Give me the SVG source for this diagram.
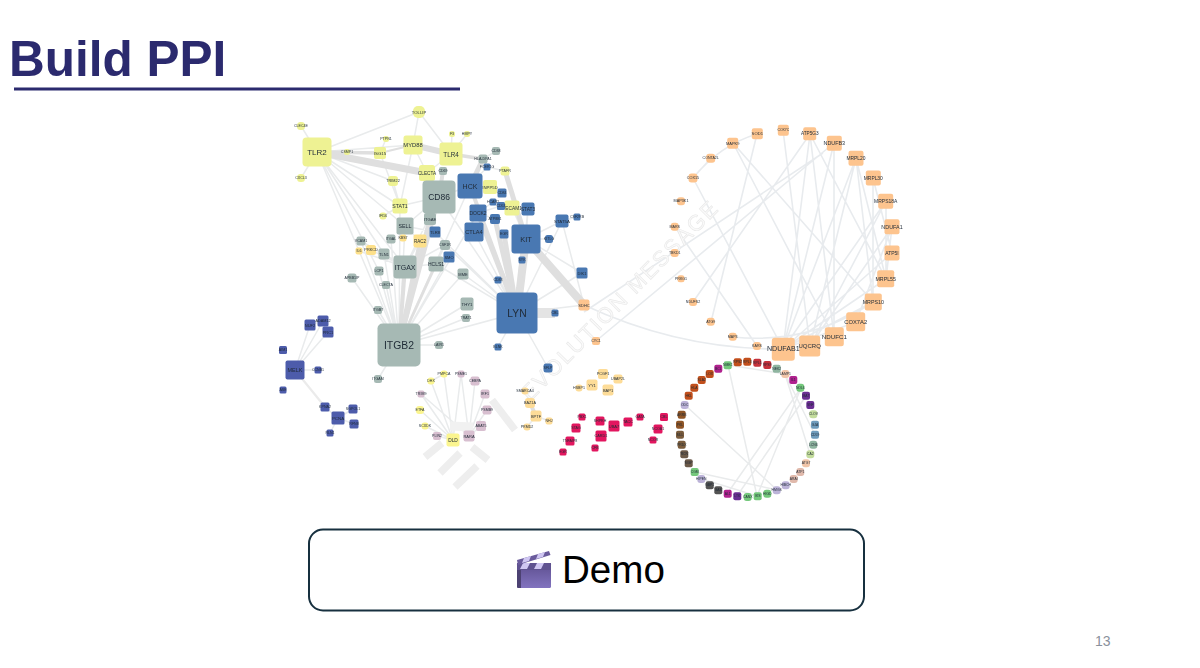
<svg xmlns="http://www.w3.org/2000/svg" width="1200" height="668" viewBox="0 0 1200 668">
<defs>
<linearGradient id="clap" x1="0" y1="0" x2="0" y2="1"><stop offset="0" stop-color="#5d4f8f"/><stop offset="1" stop-color="#8273bf"/></linearGradient>
<filter id="soft" x="-2%" y="-2%" width="104%" height="104%"><feGaussianBlur stdDeviation="0.4"/></filter>
</defs>
<style>
text{font-family:"Liberation Sans",Arial,sans-serif}
.net text{text-anchor:middle;dominant-baseline:central;fill:#1f2a36}
.e{fill:none;stroke:#e9ebec;stroke-width:1.5}
.e2{fill:none;stroke:#e8ebee;stroke-width:1.6}
.t{fill:none;stroke:#dfdfdf;stroke-linecap:butt}
.mark{fill:none;stroke:#eeeeee;stroke-width:7.5}
.y rect{fill:#eef293}.g rect{fill:#a6b9b4}.b rect{fill:#4a78b2}.o rect{fill:#fdc48e}.n rect{fill:#4d5cab}
.m rect{fill:#d8bfd0}.l rect{fill:#fbf58f}.p rect{fill:#fddc98}.c rect{fill:#e2175f}.r rect{fill:#fde08a}
.i2 rect{fill:#c2501b}.i3 rect{fill:#c5303a}.i4 rect{fill:#8fb5a0}.i5 rect{fill:#f1c5a8}.i6 rect{fill:#b0208e}.i7 rect{fill:#74c87c}
.i8 rect{fill:#6a2f92}.i9 rect{fill:#c3dc9c}.i10 rect{fill:#6f9cbc}.i11 rect{fill:#e0b9ab}.i12 rect{fill:#bcb3d8}.i13 rect{fill:#525252}.i14 rect{fill:#7a5c3c}.i15 rect{fill:#6c5a4a}.i16 rect{fill:#8f5526}
</style>
<rect width="1200" height="668" fill="#ffffff"/>
<text id="title" x="9" y="76" font-size="49.5" font-weight="700" fill="#2b2a6e">Build PPI</text>
<line id="title-rule" x1="14" y1="89" x2="460" y2="89" stroke="#2b2a6e" stroke-width="3"/>

<g class="net" filter="url(#soft)">
<g id="connectors">
<path class="e" d="M317 152L419 112M317 152L301 126M317 152L301 178M317 152L393 181M317 152L400 206M317 152L405 226M317 152L405 267M317 152L399 345M317 152L384 254M317 152L379 271M317 152L413 145M419 112L451 154M419 112L413 145M413 145L439 197M413 145L427 173M451 154L452 134M451 154L467 134M451 154L427 173M451 154L483 159M380 153L386 139M380 153L400 206M413 145L400 206M393 181L400 206M400 206L383 216M400 206L439 197M400 206L399 345M399 345L405 226M399 345L361 241M399 345L384 254M399 345L391 239M399 345L379 271M399 345L378 310M399 345L463 274M399 345L467 304M399 345L466 318M399 345L517 313M399 345L439 345M399 345L378 379M399 345L386 285M399 345L352 278M399 345L445 245M399 345L449 257M439 197L405 226M439 197L405 267M439 197L470 186M405 226L420 241M405 226L435 232M405 267L436 264M405 267L445 245M405 267L420 241M405 267L361 241M405 267L359 251M405 267L371 250M405 267L384 254M436 264L517 313M463 274L517 313M445 245L517 313M474 232L517 313M435 232L517 313M470 186L399 345M478 213L399 345M439 197L517 313M526 239L562 221M526 239L549 239M526 239L528 209M526 239L512 208M562 221L577 217M517 313L528 209M517 313L562 221M517 313L582 273M517 313L548 368M517 313L498 347M517 313L498 280M517 313L504 234M517 313L584 305M526 239L582 273M562 221L584 305M483 159L496 151M483 159L470 186M487 167L470 186M493 202L478 213M501 206L478 213M495 219L478 213M490 187L470 186M512 208L528 209M505 171L487 167"/>
<path class="e" d="M295 370L310 325M295 370L323 321M295 370L328 332M295 370L318 370M310 325L323 321M338 418L325 407M338 418L353 409M338 418L354 424M338 418L330 433"/>
<path class="t" stroke-width="2.2" d="M295 370L325 407" style="stroke:#ebebeb"/>
<path class="e" d="M453 440L444 374M453 440L431 381M453 440L420 410M453 440L421 394M453 440L425 426M453 440L461 374M469 436L475 381M469 436L485 394M469 436L461 374M469 436L487 410M469 436L481 426M437 436L453 440M431 381L444 374M421 394L469 436"/>
<path class="e" d="M536 416L525 391M536 416L527 427M536 416L549 421M530 403L525 391"/>
<path class="t" stroke-width="4" d="M530 403L536 416"/>
<path class="t" stroke-width="7" d="M317 152L427 173"/>
<path class="t" stroke-width="6" d="M413 145L451 154"/>
<path class="t" stroke-width="3.5" d="M317 152L380 153"/>
<path class="t" stroke-width="2.2" d="M380 153L413 145"/>
<path class="t" stroke-width="3.5" d="M451 154L483 159"/>
<path class="t" stroke-width="4" d="M427 173L439 197"/>
<path class="t" stroke-width="4" d="M443 171L439 197"/>
<path class="t" stroke-width="5" d="M483 159L470 186"/>
<path class="t" stroke-width="5" d="M505 171L526 239"/>
<path class="t" stroke-width="8" d="M526 239L584 305"/>
<path class="t" stroke-width="8" d="M526 239L517 313"/>
<path class="t" stroke-width="5" d="M522 260L517 313"/>
<path class="t" stroke-width="5" d="M478 213L517 313"/>
<path class="t" stroke-width="4" d="M470 186L517 313"/>
<path class="t" stroke-width="5" d="M495 219L517 313"/>
<path class="t" stroke-width="5" d="M504 234L517 313"/>
<path class="t" stroke-width="10" d="M517 313L555 313" style="stroke:#e4e4e4"/>
<path class="t" stroke-width="4" d="M405 267L399 345"/>
<path class="t" stroke-width="5" d="M430 219L399 345"/>
<path class="t" stroke-width="4" d="M439 197L399 345"/>
<path class="t" stroke-width="4" d="M420 241L399 345"/>
<path class="t" stroke-width="3" d="M436 264L399 345"/>
<path class="e2" d="M733 143L873 302M757 134L711 322M693 178L783 349M693 178Q720 145 757 134M834 143L783 349M834 143L834 337M834 143L596 341M823 153L584 312M783 130L810 346M810 134L783 349M810 134L834 337M810 134L886 279M856 158L783 349M856 158L873 302M856 158L810 346M873 178L873 302M886 201L783 349M886 201L810 346M892 227L810 346M892 227L886 279M892 253L783 349M886 279L783 349M873 302L783 349M856 322L783 349M856 322L892 227M584 305Q680 350 783 349M733 337Q810 345 873 302M693 302L810 134M675 227L757 346M693 178L711 158M886 201L886 279M873 178L892 253M733 143L834 337M856 158L886 279"/>
<path class="e" d="M728 365L757 496M728 365L785 374M785 374L815 435M801 388L727 494M806 396L737 496M685 405L777 490M702 479L757 496M695 472L777 490M785 374L810 454M801 388L757 496"/>
</g>

<g id="watermark">
<text x="530" y="402" font-size="22" letter-spacing="1.7" transform="rotate(-45.4 530 402)" style="text-anchor:start;dominant-baseline:auto;fill:#fafafa;stroke:#e8e8e8;stroke-width:0.6">EVOLUTION MESSAGE</text>
<path class="mark" d="M425 457L442 443M440 473L460 453M455 487L477 466M472 447L488 460M492 400L515 430"/>
<path d="M450 426L473 427" fill="none" stroke="#f1f1f1" stroke-width="9"/>
</g>

<g id="TLR2" class="y" transform="translate(317 152)"><rect x="-14.5" y="-14.5" width="29" height="29" rx="4"/><text font-size="8">TLR2</text></g>
<g id="TOLLIP" class="y" transform="translate(419 112)"><rect x="-6" y="-6" width="12" height="12" rx="5"/><text font-size="4.2">TOLLIP</text></g>
<g id="CLEC4E" class="y" transform="translate(301 126)"><rect x="-4" y="-4" width="8" height="8" rx="3.5"/><text font-size="3.6">CLEC4E</text></g>
<g id="CXCL3" class="y" transform="translate(301 178)"><rect x="-4" y="-4" width="8" height="8" rx="3.5"/><text font-size="3.6">CXCL3</text></g>
<g id="MYD88" class="y" transform="translate(413 145)"><rect x="-9.5" y="-9.5" width="19" height="19" rx="2.5"/><text font-size="5.8">MYD88</text></g>
<g id="TLR4" class="y" transform="translate(451 154)"><rect x="-11.5" y="-11.5" width="23" height="23" rx="3"/><text font-size="6.3">TLR4</text></g>
<g id="F3" class="y" transform="translate(452 134)"><rect x="-3" y="-3" width="6" height="6" rx="2.5"/><text font-size="3.6">F3</text></g>
<g id="HMPY" class="y" transform="translate(467 134)"><rect x="-3" y="-3" width="6" height="6" rx="2.5"/><text font-size="3.6">HMPY</text></g>
<g id="PTPN1" class="y" transform="translate(386 139)"><rect x="-3" y="-3" width="6" height="6" rx="2.5"/><text font-size="3.6">PTPN1</text></g>
<g id="ISG15" class="y" transform="translate(380 153)"><rect x="-6" y="-6" width="12" height="12" rx="2"/><text font-size="4.4">ISG15</text></g>
<g id="CSMP1" class="y" transform="translate(347 152)"><rect x="-3" y="-3" width="6" height="6" rx="2.5"/><text font-size="3.6">CSMP1</text></g>
<g id="CLECTA" class="y" transform="translate(427 173)"><rect x="-8" y="-8" width="16" height="16" rx="2.5"/><text font-size="4.7">CLECTA</text></g>
<g id="TRIM22" class="y" transform="translate(393 181)"><rect x="-5" y="-5" width="10" height="10" rx="3"/><text font-size="3.8">TRIM22</text></g>
<g id="STAT1" class="y" transform="translate(400 206)"><rect x="-7.5" y="-7.5" width="15" height="15" rx="2.5"/><text font-size="5.2">STAT1</text></g>
<g id="IFI16" class="y" transform="translate(383 216)"><rect x="-3.5" y="-3.5" width="7" height="7" rx="3"/><text font-size="3.6">IFI16</text></g>
<g id="PTAFR" class="y" transform="translate(505 171)"><rect x="-4.5" y="-4.5" width="9" height="9" rx="2.5"/><text font-size="3.6">PTAFR</text></g>
<g id="INPP5D" class="y" transform="translate(490 187)"><rect x="-7" y="-7" width="14" height="14" rx="2"/><text font-size="4.3">INPP5D</text></g>
<g id="PECAM1" class="y" transform="translate(512 208)"><rect x="-7.5" y="-7.5" width="15" height="15" rx="2"/><text font-size="4.8">PECAM1</text></g>

<g id="CD86" class="g" transform="translate(439 197)"><rect x="-16.5" y="-16.5" width="33" height="33" rx="4"/><text font-size="8.5">CD86</text></g>
<g id="ITGAE" class="g" transform="translate(430 219)"><rect x="-6" y="-6" width="12" height="12" rx="2"/><text font-size="4.2">ITGAE</text></g>
<g id="SELL" class="g" transform="translate(405 226)"><rect x="-8.5" y="-8.5" width="17" height="17" rx="2"/><text font-size="5.3">SELL</text></g>
<g id="ITGA" class="g" transform="translate(391 239)"><rect x="-4.5" y="-4.5" width="9" height="9" rx="2"/><text font-size="3.6">ITGAL</text></g>
<g id="VCAM1" class="g" transform="translate(361 241)"><rect x="-4.5" y="-4.5" width="9" height="9" rx="2"/><text font-size="3.6">VCAM1</text></g>
<g id="TLN1" class="g" transform="translate(384 254)"><rect x="-5.5" y="-5.5" width="11" height="11" rx="2"/><text font-size="4">TLN1</text></g>
<g id="ITGAX" class="g" transform="translate(405 267)"><rect x="-11.5" y="-11.5" width="23" height="23" rx="3"/><text font-size="7">ITGAX</text></g>
<g id="LCP1" class="g" transform="translate(379 271)"><rect x="-4.5" y="-4.5" width="9" height="9" rx="2"/><text font-size="3.6">LCP1</text></g>
<g id="HCLS1" class="g" transform="translate(436 264)"><rect x="-7.5" y="-7.5" width="15" height="15" rx="2"/><text font-size="5">HCLS1</text></g>
<g id="CSF1R" class="g" transform="translate(445 245)"><rect x="-5" y="-5" width="10" height="10" rx="2.5"/><text font-size="3.6">CSF1R</text></g>
<g id="MME" class="g" transform="translate(463 274)"><rect x="-5.5" y="-5.5" width="11" height="11" rx="2"/><text font-size="4">MME</text></g>
<g id="APBB1IP" class="g" transform="translate(352 278)"><rect x="-4.5" y="-4.5" width="9" height="9" rx="2.5"/><text font-size="3.6">APBB1IP</text></g>
<g id="CLEC7A" class="g" transform="translate(386 285)"><rect x="-4" y="-4" width="8" height="8" rx="2"/><text font-size="3.6">CLEC7A</text></g>
<g id="HLA-DPA1" class="g" transform="translate(483 159)"><rect x="-4.5" y="-4.5" width="9" height="9" rx="2"/><text font-size="3.6">HLA-DPA1</text></g>
<g id="CD38" class="g" transform="translate(496 151)"><rect x="-4" y="-4" width="8" height="8" rx="2"/><text font-size="3.6">CD38</text></g>
<g id="CD69" class="g" transform="translate(443 171)"><rect x="-4" y="-4" width="8" height="8" rx="2"/><text font-size="3.6">CD69</text></g>
<g id="THY1" class="g" transform="translate(467 304)"><rect x="-6.5" y="-6.5" width="13" height="13" rx="2"/><text font-size="4.3">THY1</text></g>
<g id="TRAT1" class="g" transform="translate(466 318)"><rect x="-4" y="-4" width="8" height="8" rx="2"/><text font-size="3.6">TRAT1</text></g>
<g id="ITGB2" class="g" transform="translate(399 345)"><rect x="-21.5" y="-21.5" width="43" height="43" rx="5"/><text font-size="10.4">ITGB2</text></g>
<g id="ITGB7" class="g" transform="translate(378 310)"><rect x="-4" y="-4" width="8" height="8" rx="2"/><text font-size="3.6">ITGB7</text></g>
<g id="LAIR1" class="g" transform="translate(439 345)"><rect x="-4" y="-4" width="8" height="8" rx="2.5"/><text font-size="3.6">LAIR1</text></g>
<g id="TGAM" class="g" transform="translate(378 379)"><rect x="-4" y="-4" width="8" height="8" rx="2.5"/><text font-size="3.6">ITGAM</text></g>

<g id="RAC2" class="r" transform="translate(420 241)"><rect x="-6.5" y="-6.5" width="13" height="13" rx="2"/><text font-size="4.5">RAC2</text></g>
<g id="KBS7" class="r" transform="translate(403 238)"><rect x="-3.5" y="-3.5" width="7" height="7" rx="2.5"/><text font-size="3.6">KBS7</text></g>
<g id="IL6" class="r" transform="translate(359 251)"><rect x="-3.5" y="-3.5" width="7" height="7" rx="2"/><text font-size="3.6">IL6</text></g>
<g id="PRKCD" class="r" transform="translate(371 250)"><rect x="-5" y="-5" width="10" height="10" rx="2.5"/><text font-size="3.8">PRKCD</text></g>
<g id="SDHC" class="o" transform="translate(584 305)"><rect x="-5.5" y="-5.5" width="11" height="11" rx="2"/><text font-size="4">SDHC</text></g>
<g id="CYC1" class="o" transform="translate(596 341)"><rect x="-4" y="-4" width="8" height="8" rx="2"/><text font-size="3.6">CYC1</text></g>

<g id="HCK" class="b" transform="translate(470 186)"><rect x="-12.5" y="-12.5" width="25" height="25" rx="3"/><text font-size="7">HCK</text></g>
<g id="CD2" class="b" transform="translate(502 193)"><rect x="-4.5" y="-4.5" width="9" height="9" rx="1.5"/><text font-size="3.6">CD84</text></g>
<g id="DOCK2" class="b" transform="translate(478 213)"><rect x="-8.5" y="-8.5" width="17" height="17" rx="2"/><text font-size="5">DOCK2</text></g>
<g id="CTLA4" class="b" transform="translate(474 232)"><rect x="-9.5" y="-9.5" width="19" height="19" rx="2"/><text font-size="5.6">CTLA4</text></g>
<g id="TLR8" class="b" transform="translate(435 232)"><rect x="-5.5" y="-5.5" width="11" height="11" rx="1.5"/><text font-size="4.2">TLR8</text></g>
<g id="KIT" class="b" transform="translate(526 239)"><rect x="-14.5" y="-14.5" width="29" height="29" rx="3"/><text font-size="7.5">KIT</text></g>
<g id="STAT3" class="b" transform="translate(528 209)"><rect x="-6.5" y="-6.5" width="13" height="13" rx="2"/><text font-size="4.8">STAT3</text></g>
<g id="STAT5A" class="b" transform="translate(562 221)"><rect x="-6.5" y="-6.5" width="13" height="13" rx="2"/><text font-size="4.4">STAT5A</text></g>
<g id="CSF2RB" class="b" transform="translate(577 217)"><rect x="-3.5" y="-3.5" width="7" height="7" rx="1.5"/><text font-size="3.6">CSF2RB</text></g>
<g id="HGS" class="b" transform="translate(549 239)"><rect x="-4" y="-4" width="8" height="8" rx="2.5"/><text font-size="3.6">KITLG</text></g>
<g id="EGR" class="b" transform="translate(504 234)"><rect x="-4.5" y="-4.5" width="9" height="9" rx="1.5"/><text font-size="3.6">EGR</text></g>
<g id="CSF2" class="b" transform="translate(495 219)"><rect x="-5" y="-5" width="10" height="10" rx="2"/><text font-size="3.6">ATP8B1</text></g>
<g id="ANXA" class="b" transform="translate(493 202)"><rect x="-3.5" y="-3.5" width="7" height="7" rx="1.5"/><text font-size="3.6">HCAR2</text></g>
<g id="CD53" class="b" transform="translate(501 206)"><rect x="-4" y="-4" width="8" height="8" rx="1.5"/><text font-size="3.6">CD53</text></g>
<g id="FCER1" class="b" transform="translate(487 167)"><rect x="-3.5" y="-3.5" width="7" height="7" rx="1.5"/><text font-size="3.6">FCER1G</text></g>
<g id="SMO" class="b" transform="translate(449 257)"><rect x="-5.5" y="-5.5" width="11" height="11" rx="1.5"/><text font-size="4">SMO</text></g>
<g id="SYK" class="b" transform="translate(522 260)"><rect x="-3.5" y="-3.5" width="7" height="7" rx="1.5"/><text font-size="3.6">SYK</text></g>
<g id="DSK" class="b" transform="translate(582 273)"><rect x="-5.5" y="-5.5" width="11" height="11" rx="1.5"/><text font-size="4">DIK1</text></g>
<g id="CD33" class="b" transform="translate(498 280)"><rect x="-3.5" y="-3.5" width="7" height="7" rx="1.5"/><text font-size="3.6">CD33</text></g>
<g id="LYN" class="b" transform="translate(517 313)"><rect x="-20.5" y="-20.5" width="41" height="41" rx="4"/><text font-size="10.3">LYN</text></g>
<g id="CBL" class="b" transform="translate(555 313)"><rect x="-3.5" y="-3.5" width="7" height="7" rx="1.5"/><text font-size="3.6">CBL</text></g>
<g id="BLNK" class="b" transform="translate(498 347)"><rect x="-3.5" y="-3.5" width="7" height="7" rx="1.5"/><text font-size="3.6">BLNK</text></g>
<g id="SFLP" class="b" transform="translate(548 368)"><rect x="-4.5" y="-4.5" width="9" height="9" rx="2.5"/><text font-size="3.6">SFLP</text></g>

<g id="MELK" class="n" transform="translate(295 370)"><rect x="-9.5" y="-9.5" width="19" height="19" rx="2"/><text font-size="5.5">MELK</text></g>
<g id="NUF2" class="n" transform="translate(310 325)"><rect x="-5.5" y="-5.5" width="11" height="11" rx="1.5"/><text font-size="4">NUF2</text></g>
<g id="ADAM" class="n" transform="translate(323 321)"><rect x="-5.5" y="-5.5" width="11" height="11" rx="1.5"/><text font-size="3.8">ADAM12</text></g>
<g id="PRC1" class="n" transform="translate(328 332)"><rect x="-5.5" y="-5.5" width="11" height="11" rx="1.5"/><text font-size="4">PRC1</text></g>
<g id="AIM1" class="n" transform="translate(283 350)"><rect x="-4" y="-4" width="8" height="8" rx="1.5"/><text font-size="3.6">AIM1</text></g>
<g id="CCNB" class="n" transform="translate(318 370)"><rect x="-3.5" y="-3.5" width="7" height="7" rx="1.5"/><text font-size="3.6">CCNB1</text></g>
<g id="ASE" class="n" transform="translate(283 390)"><rect x="-3.5" y="-3.5" width="7" height="7" rx="1.5"/><text font-size="3.6">ASE</text></g>
<g id="KPNA2" class="n" transform="translate(325 407)"><rect x="-4.5" y="-4.5" width="9" height="9" rx="1.5"/><text font-size="3.6">KPNA2</text></g>
<g id="PCNA" class="n" transform="translate(338 418)"><rect x="-6.5" y="-6.5" width="13" height="13" rx="1.5"/><text font-size="4.4">PCNA</text></g>
<g id="SGPOL1" class="n" transform="translate(353 409)"><rect x="-4.5" y="-4.5" width="9" height="9" rx="1.5"/><text font-size="3.6">SGPOL1</text></g>
<g id="RFN8" class="n" transform="translate(354 424)"><rect x="-4.5" y="-4.5" width="9" height="9" rx="1.5"/><text font-size="3.6">RFN8</text></g>
<g id="RLN" class="n" transform="translate(330 433)"><rect x="-3.5" y="-3.5" width="7" height="7" rx="1.5"/><text font-size="3.6">RLN1</text></g>

<g id="DLD" class="l" transform="translate(453 440)"><rect x="-6.5" y="-6.5" width="13" height="13" rx="2"/><text font-size="4.8">DLD</text></g>
<g id="RARA" class="m" transform="translate(469 436)"><rect x="-5.5" y="-5.5" width="11" height="11" rx="2"/><text font-size="4">RARA</text></g>
<g id="PLIN2" class="m" transform="translate(437 436)"><rect x="-4" y="-4" width="8" height="8" rx="2"/><text font-size="3.6">PLIN2</text></g>
<g id="SCXDK" class="l" transform="translate(425 426)"><rect x="-3.5" y="-3.5" width="7" height="7" rx="3"/><text font-size="3.6">SCXDK</text></g>
<g id="ETFA" class="l" transform="translate(420 410)"><rect x="-4" y="-4" width="8" height="8" rx="3"/><text font-size="3.6">ETFA</text></g>
<g id="TRIM9" class="m" transform="translate(421 394)"><rect x="-3.5" y="-3.5" width="7" height="7" rx="2"/><text font-size="3.6">TRIM9</text></g>
<g id="DHX" class="l" transform="translate(431 381)"><rect x="-3.5" y="-3.5" width="7" height="7" rx="3"/><text font-size="3.6">DHX</text></g>
<g id="PMPCA" class="l" transform="translate(444 374)"><rect x="-3.5" y="-3.5" width="7" height="7" rx="3"/><text font-size="3.6">PMPCA</text></g>
<g id="PSME" class="m" transform="translate(461 374)"><rect x="-3.5" y="-3.5" width="7" height="7" rx="2"/><text font-size="3.6">PSME1</text></g>
<g id="CEBPA" class="m" transform="translate(475 381)"><rect x="-4.5" y="-4.5" width="9" height="9" rx="2"/><text font-size="3.6">CEBPA</text></g>
<g id="IRF1" class="m" transform="translate(485 394)"><rect x="-4.5" y="-4.5" width="9" height="9" rx="2"/><text font-size="3.6">IRF1</text></g>
<g id="PSMB9" class="m" transform="translate(487 410)"><rect x="-4.5" y="-4.5" width="9" height="9" rx="2"/><text font-size="3.6">PSMB9</text></g>
<g id="ABAT5" class="m" transform="translate(481 426)"><rect x="-5" y="-5" width="10" height="10" rx="2"/><text font-size="3.6">ABAT5</text></g>

<g id="SMARCA4" class="p" transform="translate(525 391)"><rect x="-3.5" y="-3.5" width="7" height="7" rx="3"/><text font-size="3.6">SMARCA4</text></g>
<g id="BAZ1A" class="p" transform="translate(530 403)"><rect x="-5" y="-5" width="10" height="10" rx="3"/><text font-size="3.8">BAZ1A</text></g>
<g id="BPTF" class="p" transform="translate(536 416)"><rect x="-5.5" y="-5.5" width="11" height="11" rx="2"/><text font-size="4">BPTF</text></g>
<g id="NHJ" class="p" transform="translate(549 421)"><rect x="-3.5" y="-3.5" width="7" height="7" rx="2"/><text font-size="3.6">NHJ</text></g>
<g id="PRMD2" class="p" transform="translate(527 427)"><rect x="-3.5" y="-3.5" width="7" height="7" rx="3"/><text font-size="3.6">PRMD2</text></g>
<g id="YY1" class="p" transform="translate(592 385)"><rect x="-5.5" y="-5.5" width="11" height="11" rx="2"/><text font-size="4">YY1</text></g>
<g id="HSBP1" class="p" transform="translate(579 388)"><rect x="-3.5" y="-3.5" width="7" height="7" rx="3"/><text font-size="3.6">HSBP1</text></g>
<g id="PCGF1" class="p" transform="translate(603 374)"><rect x="-5" y="-5" width="10" height="10" rx="2"/><text font-size="3.8">PCGF1</text></g>
<g id="UBAP2L" class="p" transform="translate(618 379)"><rect x="-4.5" y="-4.5" width="9" height="9" rx="2"/><text font-size="3.6">UBAP2L</text></g>
<g id="BAP1" class="p" transform="translate(608 390)"><rect x="-5.5" y="-5.5" width="11" height="11" rx="2"/><text font-size="4">BAP1</text></g>

<g id="C1" class="c" transform="translate(582 417)"><rect x="-3.5" y="-3.5" width="7" height="7" rx="1.5"/><text font-size="3.6">PBX1</text></g>
<g id="STAG" class="c" transform="translate(576 428)"><rect x="-4.5" y="-4.5" width="9" height="9" rx="1.5"/><text font-size="3.6">STAG</text></g>
<g id="TNFAIP8" class="c" transform="translate(570 441)"><rect x="-4.5" y="-4.5" width="9" height="9" rx="1.5"/><text font-size="3.6">TNFAIP8</text></g>
<g id="C2" class="c" transform="translate(563 452)"><rect x="-3.5" y="-3.5" width="7" height="7" rx="1.5"/><text font-size="3.6">EGR</text></g>
<g id="SHPRH" class="c" transform="translate(600 421)"><rect x="-4.5" y="-4.5" width="9" height="9" rx="1.5"/><text font-size="3.6">SHPRH</text></g>
<g id="CARD1" class="c" transform="translate(601 436)"><rect x="-5.5" y="-5.5" width="11" height="11" rx="1.5"/><text font-size="3.8">CARD1</text></g>
<g id="C3" class="c" transform="translate(595 448)"><rect x="-3.5" y="-3.5" width="7" height="7" rx="1.5"/><text font-size="3.6">CFB</text></g>
<g id="UBA7" class="c" transform="translate(614 426)"><rect x="-5.5" y="-5.5" width="11" height="11" rx="1.5"/><text font-size="4">UBA7</text></g>
<g id="TACC" class="c" transform="translate(628 422)"><rect x="-4.5" y="-4.5" width="9" height="9" rx="1.5"/><text font-size="3.8">TACC</text></g>
<g id="C4" class="c" transform="translate(640 417)"><rect x="-3.5" y="-3.5" width="7" height="7" rx="1.5"/><text font-size="3.6">GATA</text></g>
<g id="C5" class="c" transform="translate(664 417)"><rect x="-4" y="-4" width="8" height="8" rx="1.5"/><text font-size="3.6">CBL</text></g>
<g id="C6" class="c" transform="translate(658 429)"><rect x="-4.5" y="-4.5" width="9" height="9" rx="1.5"/><text font-size="3.6">NCOA1</text></g>
<g id="C7" class="c" transform="translate(653 440)"><rect x="-3.5" y="-3.5" width="7" height="7" rx="1.5"/><text font-size="3.6">NCOR</text></g>

<g id="SOD1" class="o" transform="translate(757.3 133.7)"><rect x="-5.5" y="-5.5" width="11" height="11" rx="2"/><text font-size="4.2">SOD1</text></g>
<g id="COX7C" class="o" transform="translate(783.3 130.3)"><rect x="-5.5" y="-5.5" width="11" height="11" rx="2"/><text font-size="3.4">COX7C</text></g>
<g id="ATP5G3" class="o" transform="translate(809.7 133.7)"><rect x="-6.5" y="-6.5" width="13" height="13" rx="2"/><text font-size="4.7">ATP5G3</text></g>
<g id="NDUFB3" class="o" transform="translate(834.3 143.3)"><rect x="-7.5" y="-7.5" width="15" height="15" rx="2"/><text font-size="5.4">NDUFB3</text></g>
<g id="MRPL20" class="o" transform="translate(856 158.3)"><rect x="-7.5" y="-7.5" width="15" height="15" rx="2"/><text font-size="4.9">MRPL20</text></g>
<g id="MRPL30" class="o" transform="translate(873.3 178)"><rect x="-7.5" y="-7.5" width="15" height="15" rx="2"/><text font-size="4.9">MRPL30</text></g>
<g id="MRPS18A" class="o" transform="translate(885.7 201.3)"><rect x="-7.5" y="-7.5" width="15" height="15" rx="2"/><text font-size="5">MRPS18A</text></g>
<g id="NDUFA1" class="o" transform="translate(892 226.7)"><rect x="-7.500" y="-7.5" width="15" height="15" rx="2"/><text font-size="5.4">NDUFA1</text></g>
<g id="ATP5I" class="o" transform="translate(892 253)"><rect x="-7.5" y="-7.5" width="15" height="15" rx="2"/><text font-size="5">ATP5I</text></g>
<g id="MRPL55" class="o" transform="translate(885.7 278.7)"><rect x="-8.5" y="-8.5" width="17" height="17" rx="2"/><text font-size="5.3">MRPL55</text></g>
<g id="MRPS10" class="o" transform="translate(873.3 302)"><rect x="-8.5" y="-8.5" width="17" height="17" rx="2"/><text font-size="5.3">MRPS10</text></g>
<g id="COX7A2" class="o" transform="translate(855.7 321.7)"><rect x="-9.5" y="-9.5" width="19" height="19" rx="2.5"/><text font-size="5.8">COX7A2</text></g>
<g id="NDUFC1" class="o" transform="translate(834.3 336.7)"><rect x="-9.5" y="-9.5" width="19" height="19" rx="2.5"/><text font-size="6.2">NDUFC1</text></g>
<g id="UQCRQ" class="o" transform="translate(809.7 346)"><rect x="-10.5" y="-10.5" width="21" height="21" rx="2.5"/><text font-size="6">UQCRQ</text></g>
<g id="NDUFAB1" class="o" transform="translate(783.3 349.3)"><rect x="-11.5" y="-11.5" width="23" height="23" rx="3"/><text font-size="7.1">NDUFAB1</text></g>
<g id="KARS" class="o" transform="translate(757 346)"><rect x="-4" y="-4" width="8" height="8" rx="3"/><text font-size="3.6">KARS</text></g>
<g id="MAP3" class="o" transform="translate(732.7 336.7)"><rect x="-4" y="-4" width="8" height="8" rx="3"/><text font-size="3.6">MAP3</text></g>
<g id="ATG9" class="o" transform="translate(710.7 321.7)"><rect x="-4" y="-4" width="8" height="8" rx="3"/><text font-size="3.6">ATG9</text></g>
<g id="NDUFS2" class="o" transform="translate(693 302)"><rect x="-4" y="-4" width="8" height="8" rx="3"/><text font-size="3.6">NDUFS2</text></g>
<g id="PRKG1" class="o" transform="translate(681 278.7)"><rect x="-3.5" y="-3.5" width="7" height="7" rx="2.5"/><text font-size="3.6">PRKG1</text></g>
<g id="TBKD1" class="o" transform="translate(674.7 253)"><rect x="-4" y="-4" width="8" height="8" rx="3"/><text font-size="3.6">TBKD1</text></g>
<g id="MARS" class="o" transform="translate(674.7 226.7)"><rect x="-4" y="-4" width="8" height="8" rx="3"/><text font-size="3.6">MARS</text></g>
<g id="MAP3K1" class="o" transform="translate(681 201.3)"><rect x="-4" y="-4" width="8" height="8" rx="3"/><text font-size="3.8">MAP3K1</text></g>
<g id="COX15" class="o" transform="translate(693 178)"><rect x="-4.5" y="-4.5" width="9" height="9" rx="3"/><text font-size="3.8">COX15</text></g>
<g id="CONTA2L" class="o" transform="translate(710.7 158.3)"><rect x="-4.5" y="-4.5" width="9" height="9" rx="3"/><text font-size="3.6">CONTA2L</text></g>
<g id="MAPK9" class="o" transform="translate(732.7 143.3)"><rect x="-5.5" y="-5.5" width="11" height="11" rx="2"/><text font-size="4">MAPK9</text></g>

<g id="NME2" class="i7" transform="translate(727.7 365.3)"><rect x="-4" y="-4" width="8" height="8" rx="2"/><text font-size="3.4">NME2</text></g>
<g id="R1" class="i2" transform="translate(737.7 362.3)"><rect x="-4" y="-4" width="8" height="8" rx="2"/><text font-size="3.4">RPS2</text></g>
<g id="R2" class="i2" transform="translate(747.3 361.7)"><rect x="-4" y="-4" width="8" height="8" rx="2"/><text font-size="3.4">RPL3</text></g>
<g id="R3" class="i3" transform="translate(757.3 362.7)"><rect x="-4" y="-4" width="8" height="8" rx="2"/><text font-size="3.4">RPL5</text></g>
<g id="R4" class="i3" transform="translate(767.3 365)"><rect x="-4" y="-4" width="8" height="8" rx="2"/><text font-size="3.4">RPS9</text></g>
<g id="R5" class="i4" transform="translate(776.7 368.7)"><rect x="-4" y="-4" width="8" height="8" rx="2"/><text font-size="3.4">NEK2</text></g>
<g id="R6" class="i5" transform="translate(785.3 374)"><rect x="-4" y="-4" width="8" height="8" rx="3"/><text font-size="3.4">LAMP1</text></g>
<g id="R7" class="i6" transform="translate(793.3 380)"><rect x="-4" y="-4" width="8" height="8" rx="2"/><text font-size="3.4">IL1</text></g>
<g id="R8" class="i7" transform="translate(800.3 387.7)"><rect x="-4" y="-4" width="8" height="8" rx="3"/><text font-size="3.4">NOL6</text></g>
<g id="R9" class="i8" transform="translate(806 395.7)"><rect x="-4" y="-4" width="8" height="8" rx="2"/><text font-size="3.4">MAT</text></g>
<g id="R10" class="i8" transform="translate(810.3 405)"><rect x="-4" y="-4" width="8" height="8" rx="2"/><text font-size="3.4">SNF</text></g>
<g id="R11" class="i9" transform="translate(813.3 414.3)"><rect x="-4" y="-4" width="8" height="8" rx="3"/><text font-size="3.4">CLOV</text></g>
<g id="R12" class="i10" transform="translate(815 424.7)"><rect x="-4" y="-4" width="8" height="8" rx="2"/><text font-size="3.4">GJA</text></g>
<g id="R13" class="i10" transform="translate(815 434.7)"><rect x="-4" y="-4" width="8" height="8" rx="2"/><text font-size="3.4">CD59</text></g>
<g id="R14" class="i4" transform="translate(813.3 444.7)"><rect x="-4" y="-4" width="8" height="8" rx="3"/><text font-size="3.4">LCN6</text></g>
<g id="R15" class="i9" transform="translate(810.3 454.3)"><rect x="-4" y="-4" width="8" height="8" rx="3"/><text font-size="3.4">CA2</text></g>
<g id="R16" class="i5" transform="translate(806 463.3)"><rect x="-4" y="-4" width="8" height="8" rx="3"/><text font-size="3.4">ATG7</text></g>
<g id="R17" class="i11" transform="translate(800.3 472)"><rect x="-4" y="-4" width="8" height="8" rx="3"/><text font-size="3.4">ATP1</text></g>
<g id="R18" class="i11" transform="translate(793.7 479)"><rect x="-4" y="-4" width="8" height="8" rx="3"/><text font-size="3.4">ARAI</text></g>
<g id="R19" class="i12" transform="translate(785.7 485.3)"><rect x="-4" y="-4" width="8" height="8" rx="3"/><text font-size="3.4">HIBCH</text></g>
<g id="R20" class="i12" transform="translate(776.7 490.3)"><rect x="-4" y="-4" width="8" height="8" rx="3"/><text font-size="3.4">HMGS</text></g>
<g id="R21" class="i7" transform="translate(767.3 493.7)"><rect x="-4" y="-4" width="8" height="8" rx="3"/><text font-size="3.4">HIGD</text></g>
<g id="R22" class="i7" transform="translate(757.7 496.3)"><rect x="-4" y="-4" width="8" height="8" rx="2"/><text font-size="3.4">IKS</text></g>
<g id="R23" class="i7" transform="translate(747.7 497)"><rect x="-4" y="-4" width="8" height="8" rx="3"/><text font-size="3.4">CANX</text></g>
<g id="R24" class="i8" transform="translate(737.3 496.3)"><rect x="-4" y="-4" width="8" height="8" rx="2"/><text font-size="3.4">LTK</text></g>
<g id="R25" class="i6" transform="translate(727.7 493.7)"><rect x="-4" y="-4" width="8" height="8" rx="2"/><text font-size="3.4">AL1</text></g>
<g id="R26" class="i13" transform="translate(718.3 490.3)"><rect x="-4" y="-4" width="8" height="8" rx="2"/><text font-size="3.4">GAS</text></g>
<g id="R27" class="i13" transform="translate(709.7 485.3)"><rect x="-4" y="-4" width="8" height="8" rx="2"/><text font-size="3.4">GBP1</text></g>
<g id="R28" class="i12" transform="translate(701.3 479)"><rect x="-4" y="-4" width="8" height="8" rx="3"/><text font-size="3.4">HIPEN</text></g>
<g id="R29" class="i7" transform="translate(694.7 472)"><rect x="-4" y="-4" width="8" height="8" rx="2"/><text font-size="3.4">CGM</text></g>
<g id="R30" class="i15" transform="translate(688.7 463.3)"><rect x="-4" y="-4" width="8" height="8" rx="2"/><text font-size="3.4">MGP</text></g>
<g id="R31" class="i15" transform="translate(684.3 454.3)"><rect x="-4" y="-4" width="8" height="8" rx="2"/><text font-size="3.4">RCN</text></g>
<g id="R32" class="i14" transform="translate(681.7 444.7)"><rect x="-4" y="-4" width="8" height="8" rx="2"/><text font-size="3.4">PRDX</text></g>
<g id="R33" class="i14" transform="translate(680 434.7)"><rect x="-4" y="-4" width="8" height="8" rx="2"/><text font-size="3.4">MLL</text></g>
<g id="R34" class="i16" transform="translate(680 424.7)"><rect x="-4" y="-4" width="8" height="8" rx="2"/><text font-size="3.4">PKL</text></g>
<g id="R35" class="i16" transform="translate(681.7 414.7)"><rect x="-4" y="-4" width="8" height="8" rx="2"/><text font-size="3.4">ARRB</text></g>
<g id="R36" class="i12" transform="translate(684.7 405)"><rect x="-4" y="-4" width="8" height="8" rx="3"/><text font-size="3.4">ODC</text></g>
<g id="R37" class="i2" transform="translate(688.7 395.7)"><rect x="-4" y="-4" width="8" height="8" rx="2"/><text font-size="3.4">HKL</text></g>
<g id="R38" class="i2" transform="translate(694.3 387.7)"><rect x="-4" y="-4" width="8" height="8" rx="2"/><text font-size="3.4">HLA</text></g>
<g id="R39" class="i2" transform="translate(701.7 380)"><rect x="-4" y="-4" width="8" height="8" rx="2"/><text font-size="3.4">SLA2</text></g>
<g id="R40" class="i2" transform="translate(709.7 374)"><rect x="-4" y="-4" width="8" height="8" rx="2"/><text font-size="3.4">LOX</text></g>
<g id="R41" class="i6" transform="translate(718.3 368.7)"><rect x="-4" y="-4" width="8" height="8" rx="2"/><text font-size="3.4">BCL</text></g>
</g>

<g id="demo-box">
<rect x="309" y="529.5" width="555" height="81" rx="14" fill="#ffffff" stroke="#17303f" stroke-width="2"/>
<g id="clapper">
<rect x="517" y="563" width="34" height="25" rx="1.5" fill="url(#clap)"/>
<path d="M517 563H521V588H518.5Q517 588 517 586.5Z" fill="#4c4172"/>
<path d="M517 563H551V570H517Z" fill="#5f5290"/>
<path d="M523 563H530L527 569H520ZM537 563H544L541 569H534Z" fill="#cfc6f2"/>
<path d="M517 560L549 551L550.500 555L518 565Z" fill="#6a5b9c"/>
<path d="M524 558L531 556L529 561L522 563ZM538 554L545 552L543 557L536 559Z" fill="#cfc6f2"/>
</g>
<text x="562" y="583" font-size="38.6" fill="#000000">Demo</text>
</g>
<text id="page-number" x="1095" y="646" font-size="14" fill="#8a919c">13</text>
</svg>
